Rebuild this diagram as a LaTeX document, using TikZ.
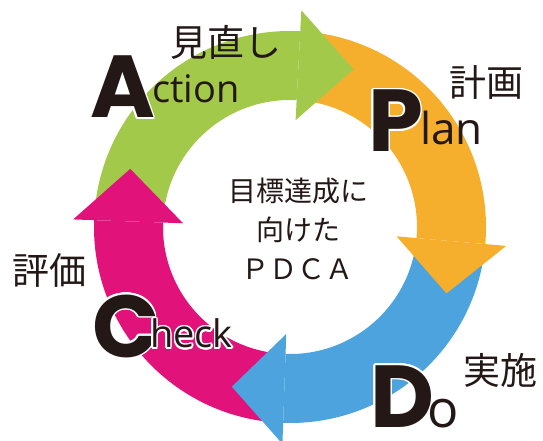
\documentclass[tikz,border=0pt]{standalone}
\usepackage{fontspec}
\usepackage{contour}
\setmainfont{Open Sans}
\newfontfamily\jpfont{Noto Sans CJK JP}
\newfontfamily\bigfont{Poppins}
\definecolor{cgreen}{HTML}{A3C94B}
\definecolor{corange}{HTML}{F5AF2D}
\definecolor{cblue}{HTML}{4CA3DE}
\definecolor{cpink}{HTML}{E2127B}
\definecolor{cink}{HTML}{231815}
\contourlength{1.5pt}
\tikzset{
  bigletter/.style={inner sep=0pt, anchor=base west, text=cink,
    font=\bigfont\bfseries\fontsize{88}{88}\selectfont},
  word/.style={inner sep=0pt, anchor=base west, text=cink,
    font=\fontsize{38}{38}\selectfont},
  jptext/.style={inner sep=0pt, text=cink,
    font=\jpfont\fontsize{37}{37}\selectfont},
}

\begin{document}
\begin{tikzpicture}[x=1pt,y=1pt]
    \useasboundingbox (-290,-214) rectangle (253,227);
    % ring
    \foreach \col/\s/\b in {cgreen/177/87, corange/86/-5, cblue/-6/-92, cpink/-93/-182}
      \fill[fill=\col] (\s:196) arc[start angle=\s, end angle=\b, radius=196]
        -- (\b:127) arc[start angle=\b, end angle=\s, radius=127] -- cycle;
    % heads
    \foreach \col/\b/\t in {cgreen/87/68, corange/-5/-23, cblue/-92/-110, cpink/-182/-200}
      \fill[fill=\col] (\b:107) -- (\b:217) -- (\t:170) -- cycle;

    \node[bigletter] (A) at (-200,109) {\contour{white}{A}};
    \node[word] (ction) at (-138,124) {ction};
    \node[bigletter] (P) at (78,75) {\contour{white}{P}};
    \node[word, font=\fontsize{44}{44}\selectfont] (lan) at (130,82) {lan};
    \node[bigletter] (C) at (-198,-130) {\contour{white}{C}};
    \node[word] (heck) at (-140,-121) {\contour{white}{heck}};
    \node[bigletter] (D) at (80,-200) {\contour{white}{D}};
    \node[word, font=\fontsize{52}{52}\selectfont] (o) at (137,-200) {o};

    \node[jptext] (minaoshi) at (-64,185) {見直し};
    \node[jptext] (keikaku) at (196,145) {計画};
    \node[jptext] (hyouka) at (-240,-43) {評価};
    \node[jptext] (jisshi) at (210,-143) {実施};
    \node[jptext, font=\jpfont\fontsize{28}{39}\selectfont, align=center] (goal) at (8,-2)
      {目標達成に\\向けた\\ＰＤＣＡ};
\end{tikzpicture}
\end{document}
